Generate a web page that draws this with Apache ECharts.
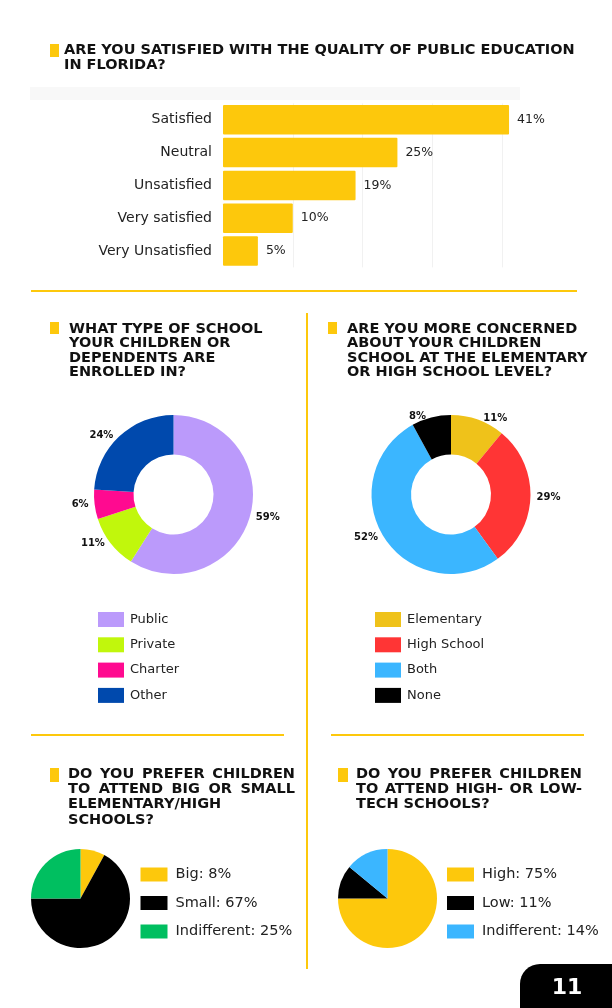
<!DOCTYPE html>
<html>
<head>
<meta charset="utf-8">
<title>Survey page 11</title>
<script src="https://cdn.jsdelivr.net/npm/echarts@6/dist/echarts.min.js"></script>
<style>
  html, body { margin: 0; padding: 0; background: #fff; }
  #page { width: 612px; height: 1008px; }
</style>
</head>
<body>
<div id="page"></div>
<script>
// Q1 - satisfaction with public education
const satisfactionCats = ['Satisfied', 'Neutral', 'Unsatisfied', 'Very satisfied', 'Very Unsatisfied']
const satisfactionVals = [41, 25, 19, 10, 5]

// Q2 - type of school
const schoolTypeNames = ['Public', 'Private', 'Charter', 'Other']
const schoolTypeVals = [59, 11, 6, 24]

// Q3 - elementary or high school concern
const levelNames = ['Elementary', 'High School', 'Both', 'None']
const levelVals = [11, 29, 52, 8]

// Q4 - big or small schools
const sizeNames = ['Big', 'Small', 'Indifferent']
const sizeVals = [8, 67, 25]

// Q5 - high or low tech schools
const techNames = ['High', 'Low', 'Indifferent']
const techVals = [75, 11, 14]

const YELLOW = '#FDC80C'
const HEAD_FONT = 'bold 14.5px "DejaVu Sans"'
const BODY = '"DejaVu Sans"'

const meas = document.createElement('canvas').getContext('2d')
function textWidth(t, font) {
  meas.font = font
  return meas.measureText(t).width
}

function txt(x, y, s, font, fill) {
  return {
    type: 'text', x: x, y: y,
    style: { text: s, font: font || HEAD_FONT, fill: fill || '#111', verticalAlign: 'middle' }
  }
}

// section heading: yellow marker + bold caps lines (optionally justified)
function heading(mk, tx, ty, lines, pitch, justifyTo) {
  const out = [{ type: 'rect', shape: mk, style: { fill: YELLOW } }]
  lines.forEach((ln, i) => {
    const y = ty + i * pitch
    const words = ln.split(' ')
    if (justifyTo && i < lines.length - 1 && words.length > 1) {
      const w = words.map(s => textWidth(s, HEAD_FONT))
      const gap = (justifyTo - tx - w.reduce((a, b) => a + b, 0)) / (words.length - 1)
      let cx = tx
      words.forEach((s, j) => { out.push(txt(cx, y, s)); cx += w[j] + gap })
    } else {
      out.push(txt(tx, y, ln))
    }
  })
  return out
}

function donut(center, data, names, colors) {
  return {
    type: 'pie',
    center: center,
    radius: [40, 79.5],
    startAngle: 90,
    clockwise: true,
    avoidLabelOverlap: false,
    silent: true,
    data: data.map((v, i) => ({ name: names[i], value: v, itemStyle: { color: colors[i] } })),
    label: {
      show: true, position: 'outside', formatter: '{c}%',
      fontFamily: BODY, fontWeight: 'bold', fontSize: 10, color: '#111'
    },
    labelLine: { show: false, length: 1, length2: 0 }
  }
}

function plainPie(center, data, names, colors) {
  return {
    type: 'pie',
    center: center,
    radius: 49.5,
    startAngle: 90,
    clockwise: true,
    silent: true,
    data: data.map((v, i) => ({ name: names[i] + ': ' + v + '%', value: v, itemStyle: { color: colors[i] } })),
    label: { show: false },
    labelLine: { show: false }
  }
}

function legendAt(left, top, names, w, h, gap, fontSize, textGap) {
  return {
    orient: 'vertical', left: left, top: top, icon: 'rect',
    itemWidth: w, itemHeight: h, itemGap: gap,
    selectedMode: false, padding: 0,
    data: names,
    textStyle: { fontFamily: BODY, fontSize: fontSize, color: '#222', padding: [0, 0, 0, textGap] }
  }
}

const colorsType = ['#BB9AFB', '#C1F70C', '#FF0A90', '#0049AD']
const colorsLevel = ['#EFC21A', '#FF3535', '#3BB6FF', '#000000']
const colorsSize = [YELLOW, '#000000', '#00BF60']
const colorsTech = [YELLOW, '#000000', '#3BB6FF']

const graphics = [].concat(
  heading({ x: 50, y: 44, width: 9, height: 13 }, 64, 50, [
    'ARE YOU SATISFIED WITH THE QUALITY OF PUBLIC EDUCATION',
    'IN FLORIDA?'
  ], 15),
  [{ type: 'rect', shape: { x: 30, y: 87, width: 490, height: 13 }, style: { fill: '#f8f8f8' } }],
  heading({ x: 50, y: 322, width: 9, height: 12 }, 69, 329, [
    'WHAT TYPE OF SCHOOL', 'YOUR CHILDREN OR', 'DEPENDENTS ARE', 'ENROLLED IN?'
  ], 14.4),
  heading({ x: 328, y: 322, width: 9, height: 12 }, 347, 329, [
    'ARE YOU MORE CONCERNED', 'ABOUT YOUR CHILDREN', 'SCHOOL AT THE ELEMENTARY', 'OR HIGH SCHOOL LEVEL?'
  ], 14.4),
  heading({ x: 50, y: 768, width: 9, height: 14 }, 68, 774, [
    'DO YOU PREFER CHILDREN', 'TO ATTEND BIG OR SMALL', 'ELEMENTARY/HIGH', 'SCHOOLS?'
  ], 15.3, 295),
  heading({ x: 338, y: 768, width: 10, height: 14 }, 356, 774, [
    'DO YOU PREFER CHILDREN', 'TO ATTEND HIGH- OR LOW-', 'TECH SCHOOLS?'
  ], 15.3, 582),
  [
    { type: 'line', shape: { x1: 31, y1: 291, x2: 577, y2: 291 }, style: { stroke: YELLOW, lineWidth: 2 } },
    { type: 'line', shape: { x1: 307, y1: 313, x2: 307, y2: 969 }, style: { stroke: YELLOW, lineWidth: 2 } },
    { type: 'line', shape: { x1: 31, y1: 735, x2: 284, y2: 735 }, style: { stroke: YELLOW, lineWidth: 2 } },
    { type: 'line', shape: { x1: 331, y1: 735, x2: 584, y2: 735 }, style: { stroke: YELLOW, lineWidth: 2 } },
    { type: 'rect', shape: { x: 520, y: 964, width: 92, height: 44, r: [20, 0, 0, 0] }, style: { fill: '#000' } },
    {
      type: 'text', x: 567, y: 988,
      style: { text: '11', font: 'bold 22px "DejaVu Sans"', fill: '#fff', align: 'center', verticalAlign: 'middle' }
    }
  ]
)

const chart = echarts.init(document.getElementById('page'), null, { renderer: 'canvas' })

const option = {
  backgroundColor: '#fff',
  animation: false,
  grid: { left: 223, top: 103.4, width: 300, height: 164, outerBoundsMode: 'none', containLabel: false },
  xAxis: {
    type: 'value', min: 0, max: 43, interval: 10,
    axisLabel: { show: false }, axisLine: { show: false }, axisTick: { show: false },
    splitLine: { showMinLine: false, showMaxLine: false, lineStyle: { color: '#f1f1f1', width: 1 } }
  },
  yAxis: {
    type: 'category', inverse: true, data: satisfactionCats,
    axisLine: { show: false }, axisTick: { show: false },
    axisLabel: { margin: 11, fontFamily: BODY, fontSize: 14, color: '#222' }
  },
  legend: [
    legendAt(98, 612, schoolTypeNames, 26, 15, 10.3, 13, 1),
    legendAt(375, 612, levelNames, 26, 15, 10.3, 13, 1),
    legendAt(140.5, 867, sizeNames.map((n, i) => n + ': ' + sizeVals[i] + '%'), 27, 14, 13.5, 14.5, 3),
    legendAt(447, 867, techNames.map((n, i) => n + ': ' + techVals[i] + '%'), 27, 14, 13.5, 14.5, 3)
  ],
  series: [
    {
      type: 'bar',
      data: satisfactionVals,
      barWidth: 29.5,
      silent: true,
      itemStyle: { color: YELLOW, borderRadius: 1 },
      label: {
        show: true, position: 'right', distance: 8, formatter: '{c}%',
        fontFamily: BODY, fontSize: 12.5, color: '#222'
      }
    },
    donut([173.5, 494.5], schoolTypeVals, schoolTypeNames, colorsType),
    donut([451, 494.5], levelVals, levelNames, colorsLevel),
    plainPie([80.5, 898.5], sizeVals, sizeNames, colorsSize),
    plainPie([387.5, 898.5], techVals, techNames, colorsTech)
  ],
  graphic: graphics
}

chart.setOption(option)
</script>
</body>
</html>
